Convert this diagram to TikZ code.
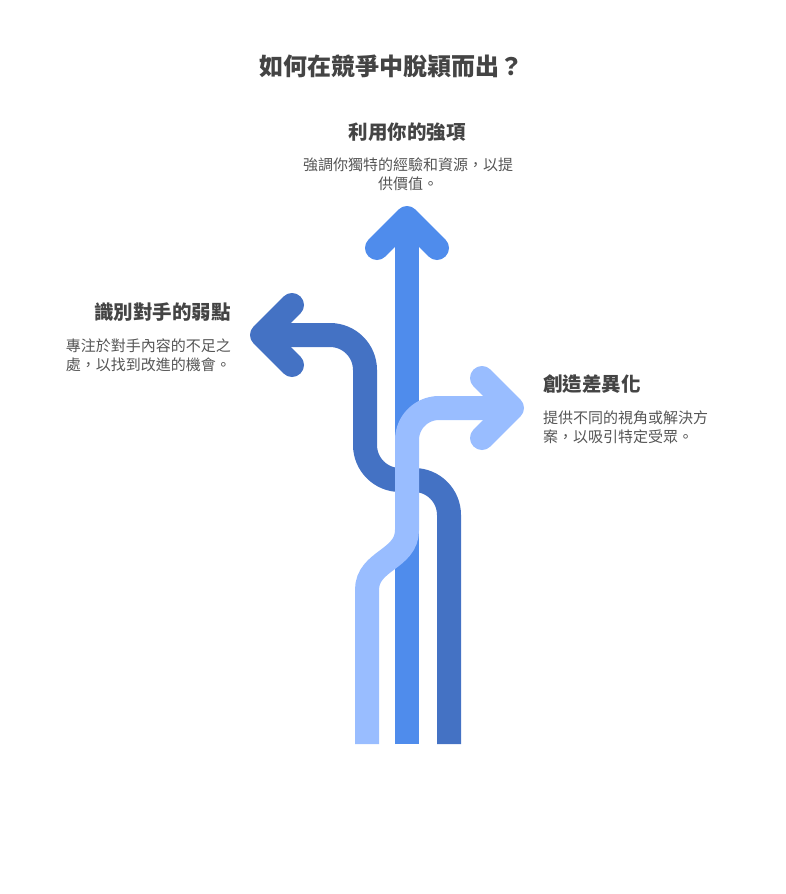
\documentclass[tikz,border=0pt]{standalone}
\usepackage{fontspec}
\setmainfont{Noto Sans CJK TC}
\usetikzlibrary{calc}

\definecolor{darkband}{HTML}{4472C4}
\definecolor{midband}{HTML}{4F8CEC}
\definecolor{lightband}{HTML}{99BDFF}
\definecolor{headgray}{HTML}{444444}
\definecolor{bodygray}{HTML}{555555}

\begin{document}
\begin{tikzpicture}[x=1pt,y=-1pt,
    band/.style={line width=24pt,line cap=butt},
    chevron/.style={line width=24pt,line cap=round,line join=round},
    heading/.style={inner sep=0pt,text=headgray,font=\fontsize{19.5}{23}\selectfont\bfseries},
    blurb/.style={inner sep=0pt,text=bodygray,font=\fontsize{15}{19}\selectfont}]
  \useasboundingbox (0,0) rectangle (785,894);
  % Title
  \node[inner sep=0pt,text=headgray,font=\fontsize{24}{28}\selectfont\bfseries] (T) at (391,66) {如何在競爭中脫穎而出？};
  % tips of the three arrows
  \coordinate (U) at (407,218);
  \coordinate (L) at (262,335);
  \coordinate (R) at (512,408);
  % Left arrow (dark), drawn first
  \draw[band,darkband,rounded corners=35] (449,744) -- (449,480) -- (365,480) -- (365,335) -- (L);
  \draw[chevron,darkband] ($(L)+(30,-30)$) -- (L) -- ($(L)+(30,30)$);
  % Middle arrow
  \draw[band,midband] (407,744) -- (U);
  \draw[chevron,midband] ($(U)+(-30,30)$) -- (U) -- ($(U)+(30,30)$);
  % Right arrow (light), on top
  \draw[band,lightband] (367,744) -- (367,590) .. controls (367,560) and (407,560) .. (407,530)
    [rounded corners=32] -- (407,408) -- (R);
  \draw[chevron,lightband] ($(R)+(-30,-30)$) -- (R) -- ($(R)+(-30,30)$);
  % Labels
  \node[heading] (Uh) at (407,132) {利用你的強項};
  \node[blurb,align=center] (Ub) at (408,174) {強調你獨特的經驗和資源，以提\\供價值。};
  \node[heading,anchor=east] (Lh) at (231,312) {識別對手的弱點};
  \node[blurb,align=right,anchor=east] (Lb) at (231,355.5) {專注於對手內容的不足之\\處，以找到改進的機會。};
  \node[heading,anchor=west] (Rh) at (543,384) {創造差異化};
  \node[blurb,align=left,anchor=west] (Rb) at (543,427.5) {提供不同的視角或解決方\\案，以吸引特定受眾。};
\end{tikzpicture}
\end{document}
